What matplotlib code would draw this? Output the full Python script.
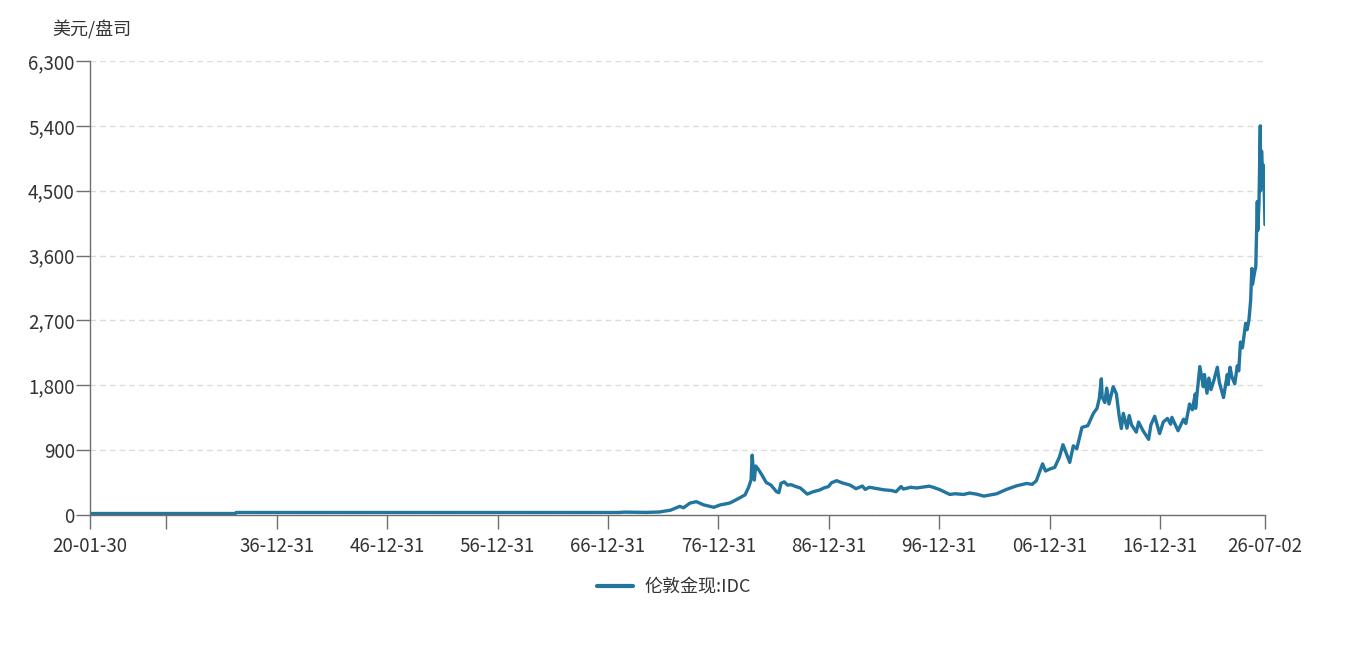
import pandas as pd
import matplotlib
matplotlib.use("Agg")
import matplotlib.pyplot as plt
import matplotlib.dates as mdates
from matplotlib.ticker import FuncFormatter, FixedLocator

plt.rcParams['font.family'] = ['Noto Sans CJK SC', 'DejaVu Sans']

# London gold spot, USD/oz
dates = ["1920-01-30", "1933-03-31", "1933-05-01", "1967-12-31", "1968-06-30",
         "1970-06-30", "1971-08-31", "1972-08-31", "1973-06-30", "1973-10-31",
         "1974-05-31", "1974-12-31", "1975-08-31", "1976-07-31", "1977-02-28",
         "1977-10-31", "1978-01-31", "1978-10-31", "1979-05-31", "1979-09-30",
         "1979-12-15", "1980-01-21", "1980-02-25", "1980-04-01", "1980-05-15",
         "1980-08-01", "1980-12-01", "1981-05-01", "1981-10-01", "1982-04-01",
         "1982-06-20", "1982-09-01", "1982-12-15", "1983-04-01", "1983-08-01",
         "1984-01-15", "1984-06-01", "1985-01-15", "1985-08-01", "1986-03-01",
         "1986-08-15", "1986-12-15", "1987-04-01", "1987-09-15", "1988-03-01",
         "1988-12-01", "1989-06-15", "1990-01-15", "1990-04-15", "1990-09-01",
         "1991-06-01", "1991-12-15", "1992-09-01", "1993-02-01", "1993-07-15",
         "1993-10-01", "1994-06-01", "1994-12-15", "1996-02-01", "1996-06-15",
         "1997-01-15", "1997-12-15", "1998-06-01", "1999-03-15", "1999-09-30",
         "2000-06-01", "2001-01-15", "2001-09-01", "2002-03-15", "2003-02-01",
         "2004-01-01", "2004-12-01", "2005-06-01", "2005-10-15", "2006-05-10",
         "2006-08-15", "2007-01-15", "2007-06-15", "2007-11-15", "2008-03-15",
         "2008-10-25", "2009-02-20", "2009-06-15", "2009-12-02", "2010-06-15",
         "2010-12-15", "2011-04-15", "2011-07-01", "2011-09-05", "2011-10-01",
         "2011-12-30", "2012-03-01", "2012-05-15", "2012-10-01", "2013-01-15",
         "2013-04-15", "2013-06-28", "2013-09-01", "2013-12-31", "2014-03-15",
         "2014-06-01", "2014-11-05", "2015-01-20", "2015-06-01", "2015-12-17",
         "2016-03-01", "2016-07-05", "2016-12-15", "2017-04-15", "2017-09-01",
         "2017-12-15", "2018-01-25", "2018-08-16", "2019-02-15", "2019-05-01",
         "2019-09-01", "2019-12-01", "2020-03-09", "2020-03-19", "2020-08-06",
         "2020-11-30", "2021-01-05", "2021-03-30", "2021-06-01", "2021-08-10",
         "2021-11-15", "2022-03-08", "2022-05-15", "2022-09-28", "2023-02-01",
         "2023-02-28", "2023-05-03", "2023-06-30", "2023-10-05", "2023-12-28",
         "2024-02-15", "2024-04-12", "2024-06-15", "2024-09-30", "2024-11-15",
         "2025-01-15", "2025-03-15", "2025-04-21", "2025-05-15", "2025-07-15",
         "2025-09-01", "2025-10-20", "2025-11-05", "2025-12-15", "2026-01-28",
         "2026-02-05", "2026-03-10", "2026-04-20", "2026-05-20", "2026-07-02"]

prices = [20.67, 20.67, 35, 35, 40,
          36, 42, 67, 120, 100,
          165, 185, 140, 107, 140,
          160, 170, 230, 280, 390,
          490, 830, 620, 485, 680,
          640, 560, 450, 416, 325,
          310, 440, 460, 416, 420,
          393, 375, 290, 323, 347,
          380, 393, 448, 476, 448,
          415, 365, 402, 355, 385,
          365, 350, 340, 323, 395,
          360, 385, 375, 400, 384,
          352, 285, 295, 285, 305,
          288, 262, 280, 295, 355,
          405, 438, 425, 475, 710,
          610, 640, 660, 800, 975,
          730, 960, 920, 1215, 1240,
          1410, 1480, 1620, 1890, 1640,
          1560, 1760, 1540, 1780, 1680,
          1380, 1200, 1410, 1205, 1380,
          1250, 1150, 1290, 1180, 1050,
          1250, 1370, 1130, 1290, 1340,
          1260, 1355, 1170, 1330, 1270,
          1540, 1460, 1680, 1480, 2060,
          1780, 1950, 1690, 1900, 1740,
          1870, 2050, 1840, 1630, 1950,
          1810, 2050, 1920, 1820, 2070,
          2000, 2400, 2320, 2660, 2570,
          2700, 2980, 3420, 3200, 3350,
          3450, 4350, 3950, 4330, 5400,
          4500, 5050, 4700, 4850, 4030]

xt_dates = ["1920-01-30", "1926-12-31", "1936-12-31", "1946-12-31", "1956-12-31",
            "1966-12-31", "1976-12-31", "1986-12-31", "1996-12-31", "2006-12-31",
            "2016-12-31", "2026-07-02"]
xt_labels = ["20-01-30", "", "36-12-31", "46-12-31", "56-12-31", "66-12-31",
             "76-12-31", "86-12-31", "96-12-31", "06-12-31", "16-12-31", "26-07-02"]
yticks = [0, 900, 1800, 2700, 3600, 4500, 5400, 6300]

x = pd.to_datetime(dates)
xt = pd.to_datetime(xt_dates)

fig = plt.figure(figsize=(13.54, 6.49), dpi=100)
ax = fig.add_axes([90 / 1354, 1 - 515 / 649, 1175 / 1354, 454 / 649])

line_color = "#21759f"
ax.plot(x, prices, color=line_color, lw=2.4, label="伦敦金现:IDC",
        solid_joinstyle="round", solid_capstyle="round")

ax.set_xlim(xt[0], xt[-1])
ax.set_ylim(0, 6300)
ax.xaxis.set_major_locator(FixedLocator(mdates.date2num(xt)))
ax.set_xticklabels(xt_labels)
ax.set_yticks(yticks)
ax.yaxis.set_major_formatter(FuncFormatter(lambda v, p: f"{int(v):,}"))

ax.grid(axis="y", color="#dcdcdc", linestyle=(0, (4, 3)), lw=1)
ax.set_axisbelow(True)
for s in ["top", "right"]:
    ax.spines[s].set_visible(False)
for s in ["left", "bottom"]:
    ax.spines[s].set_color("#6e6e6e")
    ax.spines[s].set_linewidth(1)
ax.tick_params(axis="x", length=10, width=1, color="#6e6e6e", labelsize=13.5,
               labelcolor="#333333", pad=5)
ax.tick_params(axis="y", length=10, width=1, color="#6e6e6e", labelsize=13.5,
               labelcolor="#333333", pad=1)

fig.text(52 / 1354, 1 - 30 / 649, "美元/盘司", fontsize=13, color="#333333",
         ha="left", va="center")

fig.legend(loc="center", bbox_to_anchor=(674 / 1354, 1 - 587 / 649), frameon=False,
           fontsize=13, handlelength=2.0, handletextpad=0.6, labelcolor="#333333")
for lh in fig.legends[0].get_lines():
    lh.set_linewidth(3)

fig.savefig("out.png", dpi=100)
